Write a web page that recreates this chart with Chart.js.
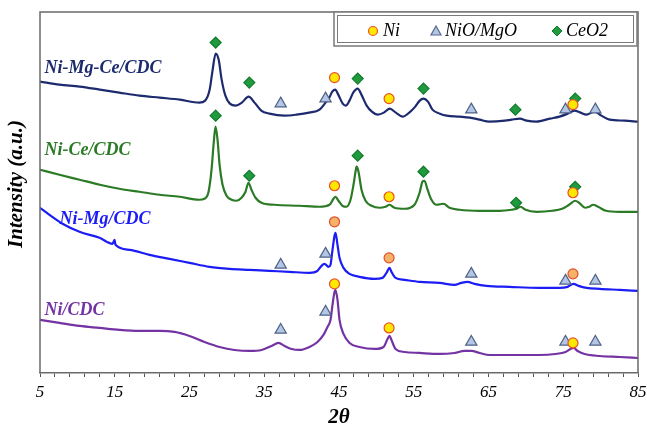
<!DOCTYPE html>
<html>
<head>
<meta charset="utf-8">
<script src="https://cdn.jsdelivr.net/npm/chart.js@4.4.1/dist/chart.umd.min.js"></script>
<style>
  html, body { margin: 0; padding: 0; background: #fff; }
  #wrap { width: 647px; height: 433px; }
</style>
</head>
<body>
<div id="wrap"><canvas id="c" width="647" height="433"></canvas></div>
<script>
// ---- Data (2θ in degrees, intensity in arbitrary units incl. vertical offset) ----
const seriesNames = ['Ni-Mg-Ce/CDC', 'Ni-Ce/CDC', 'Ni-Mg/CDC', 'Ni/CDC'];

const angNiMgCe = [5.0,7.6,10.3,13.0,15.6,18.3,21.0,23.7,26.3,27.1,27.7,28.1,28.5,28.9,29.3,29.8,30.4,31.2,32.0,32.9,33.7,34.6,35.7,37.7,39.3,41.0,42.4,43.2,43.7,44.1,44.5,44.9,45.5,45.9,46.4,46.9,47.5,48.0,48.7,49.4,50.2,51.0,51.8,52.6,53.5,54.4,55.2,55.8,56.3,56.9,57.5,58.5,59.4,61.1,62.5,63.8,65.1,67.2,68.1,69.2,70.1,71.4,73.2,74.5,75.6,76.5,77.3,78.1,79.2,80.1,81.2,83.2,85.0];
const intNiMgCe = [291,288,286,283,280,277,275,273,270,272,283,303,319,313,293,277,269,267,270,276,270,262,259,257,258,260,263,270,275,281,283,278,269,267,272,280,284,278,267,261,258,260,264,260,256,260,266,272,274,271,263,259,257,256,255,253,251,252,253,254,252,251,254,256,259,262,260,258,261,257,253,252,251];

const angNiCe = [5.0,7.6,10.3,13.0,15.6,18.3,21.0,23.7,26.3,27.0,27.55,27.95,28.22,28.48,28.75,29.02,29.42,29.96,30.62,31.29,31.96,32.49,32.89,33.29,33.83,34.63,36.37,39.71,42.39,43.73,44.26,44.53,44.93,45.47,46.0,46.54,46.94,47.21,47.35,47.61,48.01,48.55,49.35,50.42,51.22,51.76,52.42,53.76,55.1,55.78,56.17,56.44,56.85,57.37,58.04,58.98,59.78,61.13,63.81,66.47,68.09,68.74,69.28,69.95,71.43,73.51,74.85,75.78,76.59,77.12,77.92,78.46,79.0,79.66,80.73,82.47,85.0];
const intNiCe = [203,198,193,188,184,181,178,176,173,174,181,203,228,246,233,208,188,177,173,172,175,181,190,183,175,170,168,167,166,168,174,176,172,167,166,173,188,201,206,201,183,172,167,165,166,168,165,164,168,180,191,192,183,173,168,169,165,163,162,162,163,164,166,163,161,162,164,168,172,170,165,166,168,166,162,161,161];

const angNiMg = [5.0,6.27,8.01,10.28,12.96,14.7,14.97,15.1,16.97,19.65,22.32,25.0,27.68,30.35,33.03,35.7,38.38,41.05,42.12,42.66,43.06,43.59,43.86,44.13,44.4,44.53,44.8,45.07,45.6,46.41,47.74,49.75,50.82,51.35,51.76,52.02,52.56,53.76,55.78,58.45,60.46,61.39,62.19,63.13,64.73,67.81,71.82,74.51,75.58,76.38,77.04,78.12,79.86,82.54,85.0];
const intNiMg = [165,158,149,141,135,129,133,128,123,118,114,110,106,104,103,102,101,100,102,107,109,106,108,123,137,140,128,115,105,99,96,94,95,100,105,101,95,93,91,90,88,90,91,89,87,86,85,85,86,89,87,85,84,83,82];

const angNi = [5.0,7.61,10.28,12.96,15.64,18.31,20.99,23.0,25.0,27.01,29.02,31.02,33.03,34.63,35.97,36.91,37.71,38.65,39.71,41.05,42.12,42.92,43.46,43.86,44.13,44.4,44.53,44.8,45.07,45.6,46.41,47.74,49.75,50.96,51.49,51.76,52.02,52.56,53.76,55.78,58.45,60.46,61.8,62.73,63.81,65.14,67.81,71.82,73.96,75.31,75.98,76.38,76.92,77.85,79.86,82.54,85.0];
const intNi = [53,50,47,45,43,42,42,41,37,31,26,23,22,23,27,30,27,24,23,26,31,38,46,53,68,81,83,73,53,39,30,26,24,26,34,37,33,24,21,20,19,20,22,22,20,18,18,18,19,21,24,25,22,19,17,16,15];

// Phase markers (2θ, height above curve)
const niAng   = [44.4, 51.7, 76.3, 44.4, 51.7, 76.3, 44.4, 51.7, 76.3];
const niInt   = [295, 274, 268, 187, 176, 180, 89, 45, 30];
const niMgAng = [44.4, 51.7, 76.3];
const niMgInt = [151, 115, 99];
const nioAng  = [37.2, 43.2, 62.7, 75.3, 79.3, 37.2, 43.2, 62.7, 75.3, 79.3, 37.2, 43.2, 62.7, 75.3, 79.3];
const nioInt  = [269, 274, 263, 263, 263, 108, 119, 99, 92, 92, 43, 61, 31, 31, 31];
const ceAng   = [28.5, 33.0, 47.5, 56.3, 68.6, 76.6, 28.5, 33.0, 47.5, 56.3, 68.7, 76.6];
const ceInt   = [330, 290, 294, 284, 263, 274, 257, 197, 217, 201, 170, 186];

// Series label anchors (2θ, intensity)
const labelAng = [5.6, 5.6, 7.6, 5.6];
const labelInt = [304, 222, 153, 63];

const xTickMin = 5, xTickMax = 85, xLabelStep = 10, xMinorStep = 2;

// ---- Helpers ----
const pts = (a, b) => a.map((v, i) => ({ x: v, y: b[i] }));
const lineColors = ['#1d2b6e', '#2b7a25', '#1c1cf5', '#7433a3'];
const SERIF = '"Liberation Serif", "Times New Roman", serif';

function lineDs(name, a, b, color) {
  return {
    label: name, data: pts(a, b), type: 'line', borderColor: color, borderWidth: 2.2,
    pointRadius: 0, cubicInterpolationMode: 'monotone', fill: false, order: 10
  };
}
function markerDs(name, a, b, style, bg, border, r) {
  return {
    label: name, data: pts(a, b), type: 'scatter', showLine: false,
    pointStyle: style, pointRadius: r, pointBackgroundColor: bg,
    pointBorderColor: border, pointBorderWidth: 1.2, order: 0
  };
}

const bgPlugin = {
  id: 'bg',
  beforeDraw(chart) {
    const c = chart.ctx; c.save(); c.fillStyle = '#fff';
    c.fillRect(0, 0, chart.width, chart.height); c.restore();
  }
};

const framePlugin = {
  id: 'frame',
  afterDraw(chart) {
    const { ctx, chartArea: a } = chart;
    ctx.save();
    ctx.strokeStyle = '#6a6a6a'; ctx.lineWidth = 1.5;
    ctx.beginPath();
    ctx.moveTo(a.left, a.bottom); ctx.lineTo(a.left, a.top);
    ctx.lineTo(a.right, a.top); ctx.lineTo(a.right, a.bottom);
    ctx.stroke();

    // legend box (double border)
    ctx.fillStyle = '#fff';
    ctx.fillRect(334, 12, 303, 34);
    ctx.strokeStyle = '#7a7a7a'; ctx.lineWidth = 1.5;
    ctx.strokeRect(334, 12, 303, 34);
    ctx.lineWidth = 1;
    ctx.strokeRect(337.5, 15.5, 296, 27);

    // legend entries
    const cy = 31;
    ctx.font = 'italic 18px ' + SERIF;
    ctx.fillStyle = '#000'; ctx.textBaseline = 'middle'; ctx.textAlign = 'left';
    // Ni
    ctx.beginPath(); ctx.arc(373, cy, 4.5, 0, Math.PI * 2);
    ctx.fillStyle = '#ffe800'; ctx.fill(); ctx.strokeStyle = '#e8502a'; ctx.lineWidth = 1.2; ctx.stroke();
    ctx.fillStyle = '#000'; ctx.fillText('Ni', 383, cy);
    // NiO/MgO
    ctx.beginPath(); ctx.moveTo(436, cy - 5); ctx.lineTo(441, cy + 4); ctx.lineTo(431, cy + 4); ctx.closePath();
    ctx.fillStyle = '#b3c6e6'; ctx.fill(); ctx.strokeStyle = '#56698c'; ctx.stroke();
    ctx.fillStyle = '#000'; ctx.fillText('NiO/MgO', 445, cy);
    // CeO2
    ctx.beginPath(); ctx.moveTo(557, cy - 5); ctx.lineTo(562, cy); ctx.lineTo(557, cy + 5); ctx.lineTo(552, cy); ctx.closePath();
    ctx.fillStyle = '#1f9b3e'; ctx.fill(); ctx.strokeStyle = '#137a2c'; ctx.lineWidth = 1; ctx.stroke();
    ctx.fillStyle = '#000'; ctx.fillText('CeO2', 566, cy);

    // series labels
    const xs = chart.scales.x, ys = chart.scales.y;
    ctx.font = 'bold italic 18px ' + SERIF;
    seriesNames.forEach((n, i) => {
      ctx.fillStyle = lineColors[i];
      ctx.fillText(n, xs.getPixelForValue(labelAng[i]), ys.getPixelForValue(labelInt[i]));
    });

    // y-axis title
    ctx.save();
    ctx.translate(17, 184);
    ctx.rotate(-Math.PI / 2);
    ctx.textAlign = 'center'; ctx.fillStyle = '#000';
    ctx.font = 'bold italic 21px ' + SERIF;
    ctx.fillText('Intensity (a.u.)', 0, 0);
    ctx.restore();
    ctx.restore();
  }
};

new Chart(document.getElementById('c'), {
  type: 'line',
  data: {
    datasets: [
      markerDs('Ni', niAng, niInt, 'circle', '#ffe800', '#e8502a', 5),
      markerDs('Ni (Ni-Mg)', niMgAng, niMgInt, 'circle', '#f6b26b', '#e0502a', 5),
      markerDs('NiO/MgO', nioAng, nioInt, 'triangle', '#b3c6e6', '#4f6285', 6.5),
      markerDs('CeO2', ceAng, ceInt, 'rectRot', '#1f9b3e', '#137a2c', 5.5),
      lineDs(seriesNames[0], angNiMgCe, intNiMgCe, lineColors[0]),
      lineDs(seriesNames[1], angNiCe, intNiCe, lineColors[1]),
      lineDs(seriesNames[2], angNiMg, intNiMg, lineColors[2]),
      lineDs(seriesNames[3], angNi, intNi, lineColors[3])
    ]
  },
  options: {
    responsive: false, animation: false, devicePixelRatio: 1,
    layout: { padding: { left: 40, right: 9, top: 12, bottom: 0 } },
    plugins: { legend: { display: false }, tooltip: { enabled: false } },
    scales: {
      x: {
        type: 'linear', min: xTickMin, max: xTickMax,
        afterFit(s) { s.height = 60; s.paddingLeft = 0; s.paddingRight = 0; },
        ticks: {
          stepSize: xMinorStep, autoSkip: false, maxRotation: 0, padding: 5,
          color: '#000', font: { family: SERIF, style: 'italic', size: 17 },
          callback(v) { const k = (v - xTickMin) / xLabelStep; return Math.abs(k - Math.round(k)) < 1e-6 ? String(Math.round(v)) : ''; }
        },
        grid: { drawOnChartArea: false, drawTicks: true, tickLength: 4, color: '#555', tickWidth: 1 },
        border: { color: '#6a6a6a', width: 1.5 },
        title: { display: true, text: '2θ', color: '#000', padding: { top: 4, bottom: 3 },
                 font: { family: SERIF, style: 'italic', weight: 'bold', size: 21 } }
      },
      y: { display: false, min: 0, max: 360.5 }
    }
  },
  plugins: [bgPlugin, framePlugin]
});
</script>
</body>
</html>
